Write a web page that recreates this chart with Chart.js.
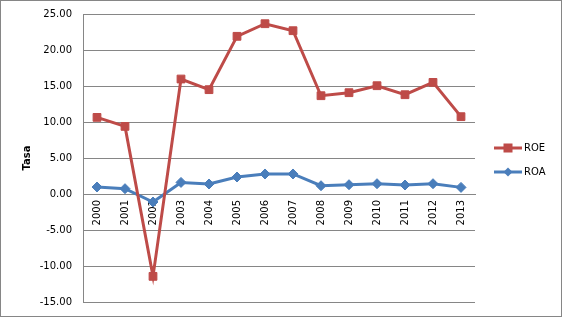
<!DOCTYPE html>
<html>
<head>
<meta charset="utf-8">
<script src="https://cdn.jsdelivr.net/npm/chart.js@4"></script>
<style>
  body { margin: 0; background: #fff; }
  #wrap { position: relative; width: 562px; height: 318px; }
  #frame { position: absolute; left: 0; top: 0; width: 560px; height: 315px; border: 1px solid #868686; pointer-events: none; }
</style>
</head>
<body>
<div id="wrap">
  <canvas id="chart" width="562" height="318"></canvas>
  <div id="frame"></div>
</div>
<script>
// data
const years = ["2000", "2001", "2002", "2003", "2004", "2005", "2006", "2007", "2008", "2009", "2010", "2011", "2012", "2013"];
const roe = [10.64, 9.39, -11.44, 15.97, 14.49, 21.90, 23.65, 22.68, 13.65, 14.07, 15.04, 13.79, 15.50, 10.74];
const roa = [0.97, 0.74, -1.11, 1.61, 1.39, 2.36, 2.78, 2.78, 1.15, 1.29, 1.43, 1.25, 1.43, 0.92];
const yMin = -15;
const yMax = 25;
const yStep = 5;

const red = "#BE4B48";
const blue = "#4A7EBB";
const gridColor = "#868686";
const font = "'DejaVu Sans', sans-serif";

// legend icon: short line with the marker on it
function makeIcon(color, shape) {
    const c = document.createElement("canvas");
    c.width = 28;
    c.height = 12;
    const g = c.getContext("2d");
    g.strokeStyle = color;
    g.fillStyle = color;
    g.lineWidth = 3;
    g.beginPath();
    g.moveTo(0, 6);
    g.lineTo(28, 6);
    g.stroke();
    if (shape === "square") {
        g.fillRect(9.5, 1.5, 9, 9);
    } else {
        g.beginPath();
        g.moveTo(14, 1.5);
        g.lineTo(18.5, 6);
        g.lineTo(14, 10.5);
        g.lineTo(9.5, 6);
        g.closePath();
        g.fill();
    }
    return c;
}
const icons = [makeIcon(red, "square"), makeIcon(blue, "diamond")];

// keep the legend column at a fixed width, nudge it into place
const legendWidth = {
    id: "legendWidth",
    afterInit(chart) {
        const lg = chart.legend;
        const fit = lg.fit.bind(lg);
        lg.fit = function () {
            fit();
            this.width = 87;
        };
    },
    afterLayout(chart) {
        const lg = chart.legend;
        lg.left += 8;
        lg.right += 8;
        lg.top += 2;
        lg.bottom += 2;
    }
};

new Chart(document.getElementById("chart").getContext("2d"), {
    type: "line",
    data: {
        labels: years,
        datasets: [
            {
                label: "ROE",
                data: roe,
                borderColor: red,
                backgroundColor: red,
                borderWidth: 3,
                pointStyle: "rect",
                pointRadius: 5.5,
                pointBorderWidth: 1,
                tension: 0
            },
            {
                label: "ROA",
                data: roa,
                borderColor: blue,
                backgroundColor: blue,
                borderWidth: 3,
                pointStyle: "rectRot",
                pointRadius: 5,
                pointBorderWidth: 1,
                tension: 0
            }
        ]
    },
    options: {
        responsive: false,
        animation: false,
        layout: { padding: { top: 14, bottom: 16, left: 0, right: 0 } },
        plugins: {
            tooltip: { enabled: false },
            legend: {
                position: "right",
                labels: {
                    font: { family: font, size: 10 },
                    color: "#000",
                    usePointStyle: true,
                    pointStyleWidth: 22,
                    padding: 14,
                    generateLabels: function (chart) {
                        const items = Chart.defaults.plugins.legend.labels.generateLabels(chart);
                        return items.map((it, i) => Object.assign(it, { pointStyle: icons[i] }));
                    }
                }
            }
        },
        scales: {
            x: {
                type: "category",
                offset: true,
                position: { y: 0 },
                grid: { display: false, drawTicks: false },
                border: { display: true, color: gridColor, width: 1 },
                ticks: {
                    font: { family: font, size: 10 },
                    color: "#000",
                    minRotation: 90,
                    maxRotation: 90,
                    padding: 6,
                    autoSkip: false
                }
            },
            y: {
                min: yMin,
                max: yMax,
                afterFit(scale) {
                    scale.width = 83;
                    scale.paddingTop = 0;
                    scale.paddingBottom = 0;
                },
                grid: { color: gridColor, drawTicks: false },
                border: { display: true, color: gridColor },
                ticks: {
                    stepSize: yStep,
                    font: { family: font, size: 10 },
                    color: "#000",
                    padding: 11,
                    callback: v => v.toFixed(2)
                },
                title: {
                    display: true,
                    text: "Tasa",
                    font: { family: font, size: 10, weight: "bold" },
                    color: "#000",
                    padding: { top: 21, bottom: 0 }
                }
            }
        }
    },
    plugins: [legendWidth]
});
</script>
</body>
</html>
